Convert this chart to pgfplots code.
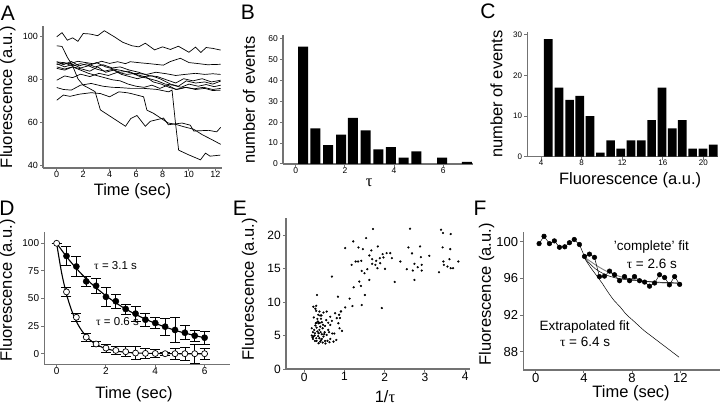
\documentclass[border=0pt]{standalone}
\usepackage{fontspec}
\setmainfont{Liberation Sans}
\newfontfamily\serif{Liberation Serif}
\usepackage{pgfplots}
\pgfplotsset{compat=1.18}
\newcommand{\lab}{\fontsize{16.5}{18}\selectfont}
\newcommand{\tk}{{\serif τ}}
\pgfplotsset{
 panel/.style={scale only axis, anchor=south west, axis x line*=bottom, axis y line*=left,
   axis line style={-, draw=black!55, line width=1.2pt},
   tick align=outside, major tick length=3pt,
   tick style={draw=black!55, line width=1pt},
   xticklabel style={inner sep=0.5pt}, yticklabel style={inner sep=2pt},
   /pgf/number format/assume math mode=true, scaled ticks=false,
   every axis x label/.style={font=\lab, anchor=center},
   every axis y label/.style={font=\lab, anchor=center, rotate=90}},
 tlf/.style={tick label style={font=\fontsize{#1}{#1}\selectfont}},
 tr/.style={black, line width=0.7pt, mark=none},
}
\begin{document}
\begin{tikzpicture}
\path[use as bounding box] (0pt,0pt) rectangle (720pt,405pt);
% ---------------- A
\begin{axis}[panel, tlf=9, at={(43pt,237pt)}, width=179pt, height=142pt,
  xmin=-1.04, xmax=12.5, ymin=39, ymax=105, xtick={0,2,...,12}, ytick={40,60,80,100},
  xlabel={Time (sec)}, ylabel={Fluorescence (a.u.)},
  x label style={at={(axis description cs:0.5,-0.162)}, anchor=center},
  y label style={at={(axis description cs:-0.196,0.5)}, anchor=center}]
\addplot[tr] coordinates {(0,100) (0.4,101.9) (0.8,98.4) (1.2,99.5) (1.6,97.9) (2.0,101.5) (2.5,101.3) (3.1,100.5) (3.6,102.8) (4.3,100.2) (5.0,97.4) (5.7,95.8) (6.2,95.3) (6.7,97.0) (7.4,93.9) (8.0,95.3) (8.6,94.1) (9.2,95.6) (10.0,92.8) (10.5,95.2) (10.9,92.7) (11.3,95.0) (11.8,94.6) (12.4,93.8)};
\addplot[tr] coordinates {(0,95.8) (0.4,95.5) (0.8,90.5) (1.2,86.5) (1.6,80.5) (2.0,77.5) (2.4,76.2) (2.9,74.5) (3.3,66.0) (3.9,63.6) (4.5,61.2) (5.2,58.4) (5.6,62.0) (6.07,63.4) (6.7,58.4) (7.07,60.7) (8.08,62.2) (8.44,59.1) (9.48,59.9) (10.1,58.9) (10.36,56.2) (11.5,56.5) (12.1,55.8) (12.4,57.9)};
\addplot[tr] coordinates {(0,70.5) (0.5,72.9) (1.0,72.3) (1.7,73.3) (2.6,74.0) (3.3,73.6) (4.0,72.1) (4.7,74.4) (5.3,74.0) (5.56,73.7) (6.57,72.1) (6.82,65.9) (7.32,64.4) (8.08,61.3) (8.44,59.9) (9.0,59.3) (9.6,58.2) (10.36,57.0) (11.0,54.5) (11.7,52.3) (12.4,50.0)};
\addplot[tr] coordinates {(0,76.4) (0.5,75.5) (1.1,75.2) (1.8,77.5) (2.6,78.3) (3.5,77.0) (4.2,76.5) (4.7,76.4) (5.6,76.0) (6.6,76.0) (7.6,75.5) (8.46,74.4) (8.72,75.2) (8.97,60.5) (9.22,47.3) (9.95,45.2) (10.87,42.8) (11.25,45.9) (11.6,44.5) (12.38,45.0)};
\addplot[tr] coordinates {(0,88.3) (0.5,88.0) (1.0,87.5) (1.6,88.6) (2.2,88.0) (2.8,87.4) (3.4,88.6) (4.0,87.6) (4.6,88.4) (5.2,87.5) (5.56,88.4) (6.3,87.9) (7.0,87.5) (8.06,86.8) (8.6,88.5) (9.35,90.0) (10.0,88.0) (10.6,87.6) (11.4,87.0) (12.4,87.2)};
\addplot[tr] coordinates {(0,79.8) (0.6,81.8) (1.2,81.0) (1.8,82.6) (2.5,81.5) (3.2,83.0) (3.9,82.0) (4.6,83.5) (5.3,82.5) (6.0,83.0) (6.8,82.5) (7.5,83.5) (8.3,82.8) (9.0,82.0) (9.7,82.5) (10.5,83.0) (11.2,82.5) (11.8,82.8) (12.4,82.5)};
\addplot[tr] coordinates {(0,88.4) (0.5,87.0) (1.1,88.5) (1.7,86.5) (2.3,87.5) (2.9,86.0) (3.5,87.0) (4.2,85.5) (4.8,86.0) (5.5,84.5) (6.2,83.5) (6.9,82.0) (7.6,81.5) (8.3,80.0) (9.0,78.5) (9.6,80.5) (10.3,79.5) (11.0,80.5) (11.7,79.0) (12.4,79.8)};
\addplot[tr] coordinates {(0,87.5) (0.6,86.0) (1.2,87.2) (1.8,85.5) (2.4,86.5) (3.0,85.0) (3.6,84.0) (4.2,84.8) (4.8,83.5) (5.4,84.0) (6.0,82.5) (6.6,81.5) (7.2,81.8) (7.8,80.5) (8.6,78.0) (9.2,77.0) (9.8,79.5) (10.5,78.5) (11.2,79.0) (11.8,78.0) (12.4,79.4)};
\addplot[tr] coordinates {(0,87.1) (0.6,87.8) (1.2,86.4) (1.8,87.5) (2.4,86.6) (3.0,88.0) (3.7,86.0) (4.3,85.0) (5.0,84.2) (5.7,83.0) (6.3,81.5) (7.0,80.5) (7.6,79.5) (8.2,78.0) (8.8,77.5) (9.4,76.5) (10.0,78.0) (10.7,77.0) (11.3,77.8) (11.9,76.8) (12.4,77.5)};
\addplot[tr] coordinates {(0,86.0) (0.6,85.0) (1.2,86.0) (1.8,84.5) (2.4,83.0) (3.0,82.0) (3.6,81.0) (4.2,80.0) (4.8,79.5) (5.4,78.0) (6.0,77.0) (6.6,76.5) (7.2,77.5) (7.8,76.0) (8.4,77.5) (9.0,75.5) (9.7,76.5) (10.4,75.8) (11.1,76.5) (11.8,75.5) (12.4,76.0)};
\addplot[tr] coordinates {(0,85.3) (0.6,84.5) (1.2,86.0) (1.9,85.0) (2.5,84.0) (3.1,86.0) (3.7,83.5) (4.3,84.5) (4.9,82.5) (5.5,81.5) (6.1,80.5) (6.7,81.5) (7.3,79.0) (7.9,78.0) (8.5,76.5) (9.1,75.5) (9.8,76.5) (10.5,75.5) (11.2,76.0) (11.8,75.0) (12.4,75.2)};
\end{axis}
% ---------------- B
\begin{axis}[panel, tlf=8.5, at={(283pt,241pt)}, width=190pt, height=129pt,
  xmin=-0.516, xmax=7.21, ymin=0, ymax=61.6, xtick={0,2,4,6}, ytick={0,10,...,60},
  xlabel={\serif τ}, ylabel={number of events},
  x label style={at={(axis description cs:0.453,-0.143)}, anchor=center},
  y label style={at={(axis description cs:-0.179,0.496)}, anchor=center}]
\addplot[ybar, bar width=10pt, fill=black, draw=none] coordinates {(0.298,56) (0.799,17) (1.314,9) (1.843,14) (2.33,22) (2.846,16) (3.36,7) (3.875,8) (4.39,3) (4.905,6) (5.95,3) (6.96,1)};
\end{axis}
% ---------------- C
\begin{axis}[panel, tlf=8, at={(527.3pt,248.3pt)}, width=190.7pt, height=125pt,
  xmin=2.65, xmax=21.44, ymin=0, ymax=30.8, xtick={4,8,...,20}, ytick={0,10,20,30},
  xlabel={Fluorescence (a.u.)}, ylabel={number of events},
  x label style={at={(axis description cs:0.539,-0.186)}, anchor=center},
  y label style={at={(axis description cs:-0.162,0.5)}, anchor=center}]
\addplot[ybar, bar width=8.7pt, fill=black, draw=none] coordinates {(4.72,29) (5.77,17) (6.82,14) (7.81,15) (8.83,10) (9.85,1) (10.86,4) (11.85,2) (12.87,4) (13.88,4) (14.90,9) (15.92,17) (16.94,7) (17.92,9) (18.94,2) (19.96,2) (20.98,3)};
\end{axis}
% ---------------- D
\begin{axis}[panel, tlf=10, at={(44.3pt,40.7pt)}, width=185.7pt, height=132.6pt,
  xmin=-0.5, xmax=7.03, ymin=-9.6, ymax=110.5, xtick={0,2,4,6}, ytick={0,25,50,75,100},
  xlabel={Time (sec)}, ylabel={Fluorescence (a.u.)},
  x label style={at={(axis description cs:0.483,-0.224)}, anchor=center},
  y label style={at={(axis description cs:-0.198,0.557)}, anchor=center}]
\addplot[black, line width=1.1pt, smooth, mark=none] coordinates {(0,100) (0.5,85.1) (1,72.4) (1.5,61.6) (2,52.5) (2.5,44.6) (3,38.0) (3.5,32.3) (4,27.5) (4.5,23.4) (5,19.9) (5.5,17.0) (6,14.4)};
\addplot[black, line width=1.1pt, smooth, mark=none] coordinates {(0,100) (0.2,73.5) (0.4,54.0) (0.6,39.7) (0.8,29.2) (1.0,21.5) (1.2,15.8) (1.4,11.6) (1.6,8.5) (1.8,6.3) (2.0,4.6) (2.4,2.5) (2.8,1.3) (3.2,0.7) (4,0.2) (5,0) (6,0)};
\addplot[black, only marks, mark=*, mark size=3.1pt, error bars/.cd, y dir=both, y explicit,
  error bar style={line width=0.7pt, black}, error mark options={rotate=90, mark size=5pt, line width=0.7pt, black}]
  coordinates {(0.4,88.5)+-(0,8.6) (0.8,79)+-(0,8.8) (1.2,65.5)+-(0,4.5) (1.6,61.5)+-(0,7) (2.0,51.5)+-(0,8.3) (2.4,47.5)+-(0,6.5) (2.8,40.5)+-(0,4.5) (3.2,36.3)+-(0,6.6) (3.6,30.8)+-(0,6) (4.0,27.8)+-(0,5) (4.4,24.5)+-(0,7.5) (4.8,21.5)+-(0,11.5) (5.2,19)+-(0,6.3) (5.6,16.3)+-(0,5) (6.0,14.5)+-(0,6)};
\addplot[black, only marks, mark=*, mark options={fill=white, line width=0.7pt}, mark size=3pt, error bars/.cd, y dir=both, y explicit,
  error bar style={line width=0.7pt, black}, error mark options={rotate=90, mark size=5pt, line width=0.7pt, black}]
  coordinates {(0,100)+-(0,0) (0.4,56)+-(0,4.2) (0.8,33)+-(0,3.8) (1.2,15)+-(0,3.8) (1.6,8.8)+-(0,2.5) (2.0,5.1)+-(0,3.5) (2.4,3)+-(0,3.3) (2.8,1.8)+-(0,4.5) (3.2,0.6)+-(0,6) (3.6,0.3)+-(0,4.5) (4.0,0.2)+-(0,3.3) (4.4,0)+-(0,1.5) (4.8,0)+-(0,5.3) (5.2,0)+-(0,6) (5.6,0)+-(0,8.8) (6.0,0)+-(0,5.3)};
\node[anchor=west, font=\fontsize{11.5}{12}\selectfont] at (axis cs:1.38,79.5) {\tk{} = 3.1 s};
\node[anchor=west, font=\fontsize{11.5}{12}\selectfont] at (axis cs:1.46,29.4) {\tk{} = 0.6 s};
\end{axis}
% ---------------- E
\begin{axis}[panel, tlf=12, at={(286pt,36pt)}, width=184pt, height=150.7pt,
  xmin=-0.45, xmax=4.12, ymin=0, ymax=22.5, xtick={0,1,2,3,4}, ytick={0,5,10,15,20},
  xlabel={1/{\serif τ}}, ylabel={Fluorescence (a.u.)},
  x label style={at={(axis description cs:0.538,-0.18)}, anchor=center},
  y label style={at={(axis description cs:-0.198,0.53)}, anchor=center}]
\addplot[black, only marks, mark=*, mark size=0.9pt] coordinates {
(1.71,20.9) (2.63,20.95) (3.40,20.8) (3.45,20.3) (3.64,20.15) (1.22,19.05) (1.54,19.55) (1.35,18.15) (1.02,18.05) (1.46,17.9) (1.83,18.3) (2.59,18.15) (2.88,18.3) (3.44,18.15) (3.63,17.9) (1.28,16.05) (1.34,16.05) (1.42,16.15) (1.67,17.7) (1.62,16.95) (1.69,16.4) (1.88,16.55) (1.95,17.15) (2.14,17.3) (2.18,16.55) (2.05,17.3) (1.79,16.15) (1.69,15.7) (1.77,15.55) (1.82,15.05) (2.01,14.95) (2.39,16.05) (2.55,14.9) (2.68,17.26) (2.74,15.7) (2.70,14.7) (2.82,15.2) (2.92,15.55) (2.92,14.7) (2.90,16.7) (3.11,16.9) (2.74,13.3) (2.25,13.0) (3.35,14.45) (3.46,16.05) (3.47,15.55) (3.56,15.3) (3.61,16.4) (3.64,15.05) (3.70,15.05) (3.83,16.05) (1.18,15.55) (1.43,14.65) (1.50,14.3) (1.57,14.9) (1.62,13.3) (1.37,13.05) (1.41,12.4) (1.23,12.2) (0.69,13.8) (1.51,11.05) (1.13,10.5) (0.84,10.8) (0.32,11.05) (1.20,9.4) (1.43,9.55) (1.02,9.2) (1.93,9.1) (0.92,8.6) (1.89,15.8) (1.97,16.66)
(0.87,8.1) (0.89,7.6) (0.81,7.6) (0.91,8.58) (0.77,8.33) (0.85,6.83) (0.88,6.08) (0.94,5.69) (0.73,4.09) (0.65,4.49) (0.75,5.3) (0.80,4.34) (0.65,7.8) (0.69,7.18) (0.65,6.58) (0.52,6.43) (0.60,5.84) (0.56,5.09) (0.51,5.49) (0.52,4.19)
(0.30,9.43) (0.23,9.3) (0.30,8.68) (0.38,8.58) (0.48,8.43) (0.56,8.58) (0.40,7.98) (0.33,7.48) (0.29,6.83) (0.36,6.83) (0.44,6.98) (0.40,6.33) (0.31,6.18) (0.25,5.84) (0.38,5.84) (0.46,6.08) (0.27,5.34) (0.36,5.34) (0.44,5.19) (0.23,4.84) (0.22,4.49) (0.30,4.59) (0.38,4.59) (0.48,4.84) (0.40,4.09) (0.36,3.84) (0.19,6.08) (0.19,4.99) (0.21,4.69) (0.27,4.19) (0.31,4.19) (0.44,4.49) (0.34,7.1) (0.42,7.5) (0.28,6.5) (0.33,5.6) (0.41,5.5) (0.26,5.0) (0.35,4.9) (0.42,4.3) (0.50,5.2) (0.47,6.6) (0.39,6.9) (0.24,7.7) (0.46,3.95) (0.58,4.2) (0.60,6.9) (0.55,7.3) (0.35,8.1) (0.28,9.0) (0.63,4.0) (0.53,3.8) (0.22,5.5) (0.31,6.9) (0.43,8.0) (0.70,5.3) (0.62,5.5)};
\end{axis}
% ---------------- F
\begin{axis}[panel, tlf=13, at={(523.3pt,35pt)}, width=196.7pt, height=138.3pt,
  xmin=-1.03, xmax=15.3, ymin=86, ymax=101.1, xtick={0,4,8,12}, ytick={88,92,96,100},
  xlabel={Time (sec)}, ylabel={Fluorescence (a.u.)},
  x label style={at={(axis description cs:0.548,-0.17)}, anchor=center},
  y label style={at={(axis description cs:-0.187,0.546)}, anchor=center}]
\addplot[black, line width=0.5pt, smooth, mark=none] coordinates {(3.96,98.4) (4.5,97.3) (5,96.4) (5.5,95.5) (6,94.5) (6.5,93.6) (7,92.9) (7.5,92.1) (8,91.5) (8.5,90.9) (9,90.3) (9.5,89.8) (10,89.3) (10.5,88.8) (11,88.3) (11.5,87.8) (11.9,87.4)};
\addplot[black!50, line width=0.9pt, smooth, mark=none] coordinates {(3.96,98.4) (4.5,97.9) (5,97.45) (5.5,97.05) (6,96.7) (6.5,96.45) (7,96.2) (7.5,96.05) (8,95.9) (9,95.7) (10,95.55) (11,95.5) (11.9,95.45)};
\addplot[black, line width=0.5pt, smooth, mark=none] coordinates {(3.96,98.4) (4.5,97.6) (5,97.0) (5.5,96.6) (6,96.3) (6.5,96.1) (7,95.95) (8,95.8) (9,95.7) (10,95.6) (11,95.55) (11.9,95.5)};
\addplot[black, line width=0.5pt, mark=*, mark size=2.3pt] coordinates {(0.28,99.8) (0.69,100.6) (1.14,99.8) (1.55,100.1) (1.97,99.4) (2.41,99.45) (2.8,99.9) (3.2,100.25) (3.63,99.7) (4.05,98.4) (4.46,98.65) (4.88,98.3) (5.29,96.2) (5.71,96.25) (6.13,96.8) (6.54,96.4) (6.96,95.75) (7.37,96.2) (7.79,95.75) (8.2,96.2) (8.62,95.75) (9.04,95.6) (9.45,95.15) (9.87,95.5) (10.28,96.4) (10.7,96.1) (11.1,95.3) (11.53,96.2) (11.95,95.35)};
\node[font=\fontsize{13.5}{14}\selectfont] at (axis cs:9.61,99.45) {'complete' fit};
\node[font=\fontsize{13.5}{14}\selectfont] at (axis cs:9.64,97.64) {\tk{} = 2.6 s};
\node[font=\fontsize{13.5}{14}\selectfont] at (axis cs:4.07,90.73) {Extrapolated fit};
\node[font=\fontsize{13.5}{14}\selectfont] at (axis cs:4.1,89.1) {\tk{} = 6.4 s};
\end{axis}
% panel letters
\node[font=\fontsize{21}{22}\selectfont] at (8pt,392pt) {A};
\node[font=\fontsize{21}{22}\selectfont] at (248pt,393pt) {B};
\node[font=\fontsize{21}{22}\selectfont] at (488pt,394pt) {C};
\node[font=\fontsize{21}{22}\selectfont] at (7pt,197pt) {D};
\node[font=\fontsize{21}{22}\selectfont] at (240pt,197pt) {E};
\node[font=\fontsize{21}{22}\selectfont] at (480pt,197pt) {F};
\end{tikzpicture}
\end{document}
